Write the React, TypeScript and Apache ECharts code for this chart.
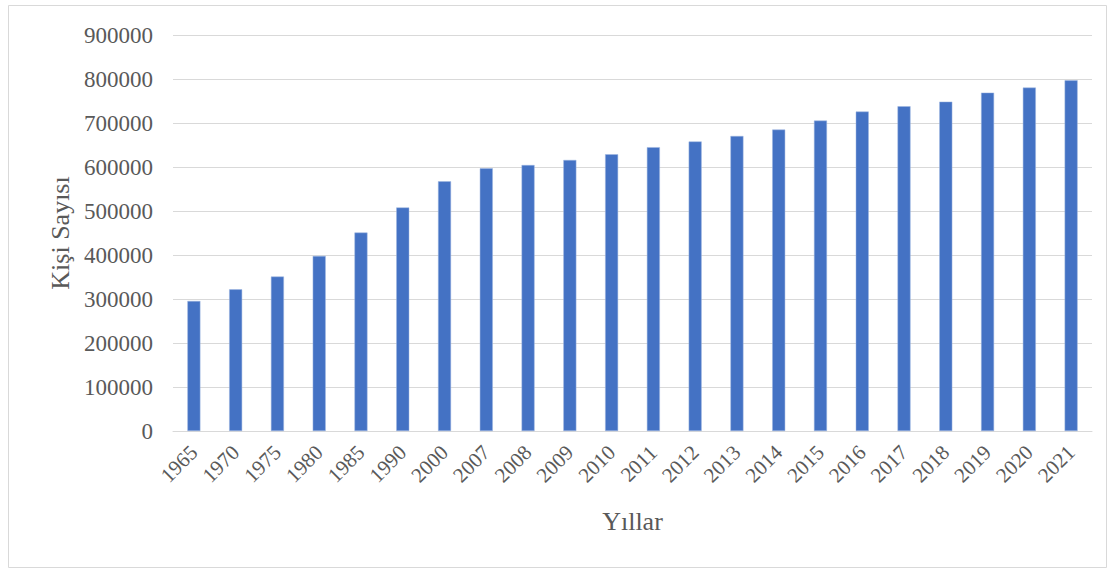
import React, { useEffect, useRef } from "react";
import * as echarts from "echarts";

const categories = ["1965","1970","1975","1980","1985","1990","2000","2007","2008","2009","2010","2011","2012","2013","2014","2015","2016","2017","2018","2019","2020","2021"];
const values = [295500,322000,351000,398000,451000,508000,567500,597000,604500,616000,629000,645000,658000,670500,685000,705500,726000,738000,748500,769000,780500,797000];
const yTitle = "Kişi Sayısı";
const xTitle = "Yıllar";

export default function App() {
  const ref = useRef<HTMLDivElement>(null);
  useEffect(() => {
    if (!ref.current) return;
    const chart = echarts.init(ref.current, undefined, { renderer: "svg" });
    const font = "'Liberation Serif', 'Times New Roman', serif";
    chart.setOption({
      animation: false,
      backgroundColor: "#ffffff",
      textStyle: { fontFamily: font },
      graphic: [
        {
          type: "rect",
          shape: { x: 8.5, y: 5.5, width: 1098, height: 562 },
          style: { fill: "none", stroke: "#d9d9d9", lineWidth: 1 },
          silent: true,
        },
      ],
      grid: { left: 173, right: 21, top: 35, bottom: 139 },
      xAxis: {
        type: "category",
        data: categories,
        name: xTitle,
        nameLocation: "middle",
        nameGap: 77,
        nameTextStyle: { fontFamily: font, fontSize: 26, color: "#595959" },
        axisLine: { lineStyle: { color: "#d9d9d9", width: 1 } },
        axisTick: { show: false },
        axisLabel: { rotate: 45, margin: 18, fontFamily: font, fontSize: 21, color: "#595959", interval: 0 },
      },
      yAxis: {
        type: "value",
        min: 0,
        max: 900000,
        interval: 100000,
        name: yTitle,
        nameLocation: "middle",
        nameGap: 98,
        nameTextStyle: { fontFamily: font, fontSize: 26, color: "#595959" },
        axisLine: { show: false },
        axisTick: { show: false },
        axisLabel: { margin: 20, fontFamily: font, fontSize: 23, color: "#595959", formatter: (v: number) => String(v) },
        splitLine: { lineStyle: { color: "#d9d9d9", width: 1 } },
      },
      series: [
        {
          type: "bar",
          data: values,
          barWidth: 13,
          itemStyle: { color: "#4472C4", borderColor: "#9fb6e0", borderWidth: 0.5 },
        },
      ],
    });
    return () => chart.dispose();
  }, []);
  return <div ref={ref} style={{ position: "fixed", left: 0, top: 0, width: 1113, height: 570 }} />;
}
